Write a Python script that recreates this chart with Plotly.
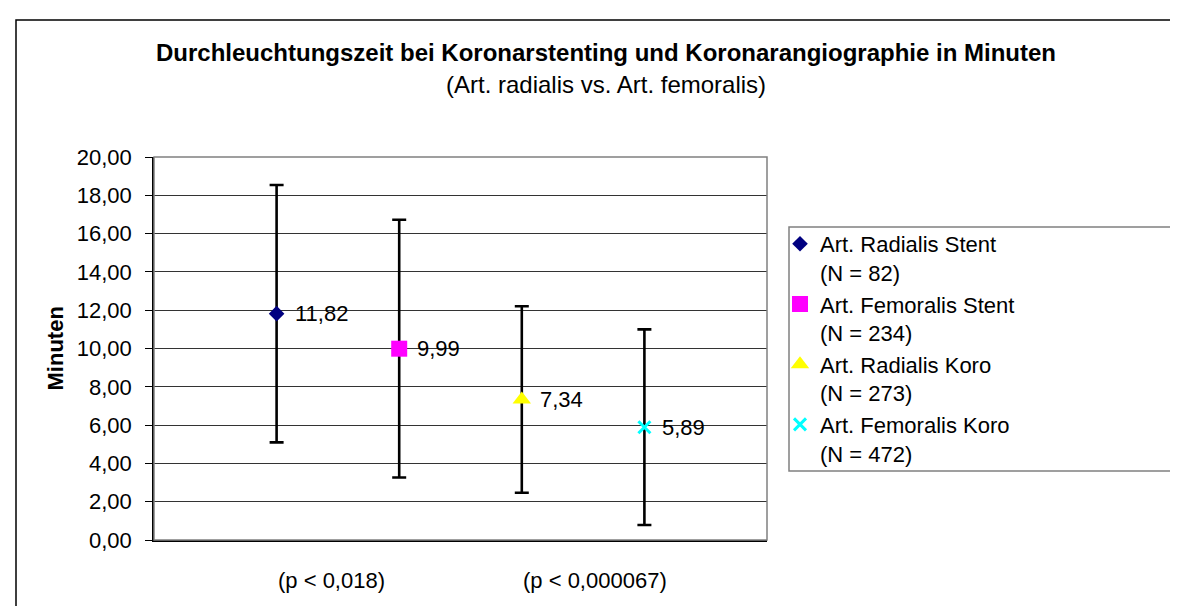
import plotly.graph_objects as go

# ---- data ----
series_names = [
    "Art. Radialis Stent<br>(N = 82)",
    "Art. Femoralis Stent<br>(N = 234)",
    "Art. Radialis Koro<br>(N = 273)",
    "Art. Femoralis Koro<br>(N = 472)",
]
x_positions = [1, 2, 3, 4]
mean_minutes = [11.82, 9.99, 7.34, 5.89]
sd_minutes = [6.72, 6.73, 4.87, 5.11]
p_labels = ["(p < 0,018)", "(p < 0,000067)"]
y_ticks = [0, 2, 4, 6, 8, 10, 12, 14, 16, 18, 20]

title_text = "<b>Durchleuchtungszeit bei Koronarstenting und Koronarangiographie in Minuten</b>"
subtitle_text = "(Art. radialis vs. Art. femoralis)"
y_title = "<b>Minuten</b>"

# ---- styles ----
styles = [
    dict(symbol="diamond", size=12, color="#000080", line=dict(width=0)),
    dict(symbol="square", size=16, color="#FF00FF", line=dict(width=0)),
    dict(symbol="triangle-up", size=16, color="#FFFF00", line=dict(width=0)),
    dict(symbol="x-thin", size=12, color="#00FFFF", line=dict(width=3, color="#00FFFF")),
]
FONT = "Liberation Sans, Arial, sans-serif"

W, H = 1178, 606
ML, MR, MT, MB = 146, 419, 149, 74
pw = W - ML - MR
ph = H - MT - MB


def px_x(px):
    return (px - ML) / pw


def px_y(py):
    return (H - MB - py) / ph


fig = go.Figure()
annotations = []
for name, xv, m, sd, st in zip(series_names, x_positions, mean_minutes, sd_minutes, styles):
    fig.add_trace(go.Scatter(
        x=[xv], y=[m], name=name, mode="markers",
        marker=st,
        error_y=dict(type="data", array=[sd], visible=True, color="black",
                     thickness=2.6, width=7),
        cliponaxis=False,
    ))
    annotations.append(dict(
        text=f"{m:.2f}".replace(".", ","), x=xv, y=m, xref="x", yref="y",
        xanchor="left", yanchor="middle", xshift=16, showarrow=False,
        font=dict(family=FONT, size=22, color="black")))

shapes = [
    # outer chart border (extends past right/bottom edges)
    dict(type="rect", xref="paper", yref="paper",
         x0=px_x(8), x1=px_x(1200), y0=px_y(640), y1=px_y(12),
         line=dict(color="#000000", width=1.5), layer="below"),
    # plot area border
    dict(type="rect", xref="paper", yref="paper", x0=0, x1=1, y0=0, y1=1,
         line=dict(color="#808080", width=1.5), layer="above"),
    # legend box
    dict(type="rect", xref="paper", yref="paper",
         x0=px_x(781), x1=px_x(1200), y0=px_y(463), y1=px_y(219),
         line=dict(color="#808080", width=1.5)),
]

annotations += [
    dict(text=title_text, xref="paper", yref="paper", x=px_x(598), y=px_y(45),
         showarrow=False, font=dict(family=FONT, size=24, color="black"),
         xanchor="center", yanchor="middle"),
    dict(text=subtitle_text, xref="paper", yref="paper", x=px_x(598), y=px_y(77),
         showarrow=False, font=dict(family=FONT, size=24, color="black"),
         xanchor="center", yanchor="middle"),
    dict(text=y_title, xref="paper", yref="paper", x=px_x(47), y=0.5,
         showarrow=False, textangle=-90, font=dict(family=FONT, size=22, color="black"),
         xanchor="center", yanchor="middle"),
]
for lbl, xc in zip(p_labels, [1.45, 3.6]):
    annotations.append(dict(text=lbl, xref="x", yref="paper", x=xc, y=px_y(572),
                            showarrow=False, font=dict(family=FONT, size=22, color="black"),
                            xanchor="center", yanchor="middle"))

fig.update_layout(
    width=W, height=H,
    margin=dict(l=ML, r=MR, t=MT, b=MB, autoexpand=False),
    paper_bgcolor="white", plot_bgcolor="white",
    separators=",.",
    font=dict(family=FONT, size=22, color="black"),
    showlegend=True,
    legend=dict(x=px_x(772), y=px_y(215), xanchor="left", yanchor="top",
                bgcolor="rgba(0,0,0,0)", borderwidth=0, valign="top",
                font=dict(family=FONT, size=22, color="black"),
                tracegroupgap=0),
    shapes=shapes,
    annotations=annotations,
    xaxis=dict(range=[0, 5], showgrid=False, zeroline=False, showticklabels=False,
               ticks="", showline=True, linecolor="black", linewidth=1.5, fixedrange=True),
    yaxis=dict(range=[0, 20], tickvals=y_ticks, tickformat=".2f",
               showgrid=True, gridcolor="#333333", gridwidth=1,
               zeroline=False, ticks="outside", ticklen=7, tickcolor="black",
               tickwidth=1, ticklabelstandoff=9,
               tickfont=dict(family=FONT, size=22, color="black"),
               showline=True, linecolor="black", linewidth=1.5, fixedrange=True),
)

fig.write_html("out.html")
